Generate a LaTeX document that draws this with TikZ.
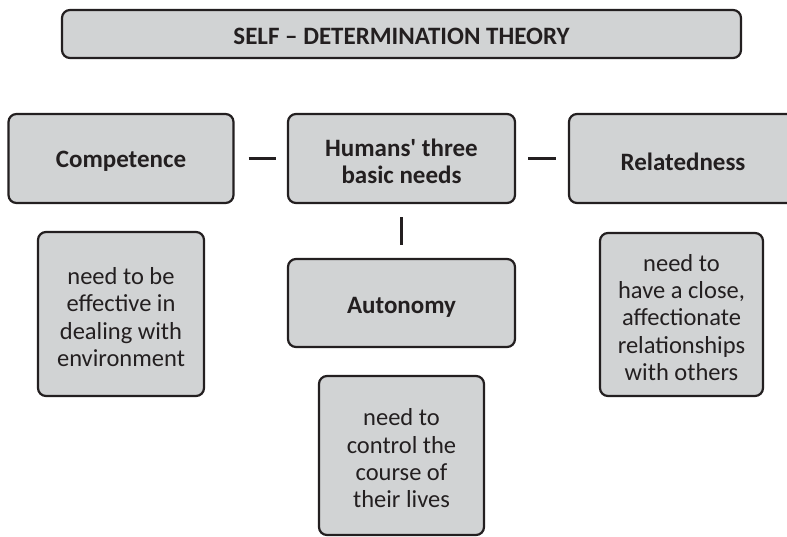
\documentclass[tikz,border=0pt]{standalone}
\usepackage{fontspec}
\setmainfont{Carlito}
\newfontfamily\plainfont{Carlito}
\definecolor{boxfill}{HTML}{D1D3D4}
\definecolor{ink}{HTML}{231F20}
\begin{document}
\begin{tikzpicture}[x=1pt,y=-1pt,
  box/.style={draw=ink, fill=boxfill, line width=2.2pt, rounded corners=8pt,
    inner sep=0pt, minimum width=#1},
  txt/.style={text=ink, align=center, inner sep=0pt},
  headtext/.style={txt, font=\fontsize{25}{27.5}\selectfont\bfseries},
  desctext/.style={txt, font=\fontsize{24.5}{27.3}\selectfont},
  link/.style={draw=ink, line width=2.2pt}]
\useasboundingbox (0,0) rectangle (787,536);
% boxes
\node[box=679pt, minimum height=48pt] (title) at (401.5,34) {};
\node[box=225pt, minimum height=89pt] (comp) at (121,158.5) {};
\node[box=227pt, minimum height=89pt] (hum) at (401.5,158.5) {};
\node[box=232pt, minimum height=89pt] (rel) at (685,158.5) {};
\node[box=227pt, minimum height=88pt] (auto) at (401.5,303) {};
\node[box=166pt, minimum height=164pt] (compd) at (121,314) {};
\node[box=163pt, minimum height=163pt] (reld) at (681.5,314.5) {};
\node[box=165pt, minimum height=159pt] (autod) at (401.5,455.5) {};
% texts
\node[txt, font=\fontsize{25}{27}\selectfont\bfseries] (titlet) at (401.5,36) {SELF – DETERMINATION THEORY};
\node[headtext] (compt) at (121,161.5) {Competence};
\node[headtext] (humt) at (401.5,161.5) {Humans{\plainfont'} three\\basic needs};
\node[headtext] (relt) at (683,162) {Relatedness};
\node[headtext] (autot) at (401.5,307) {Autonomy};
\node[desctext] (compdt) at (121,317) {need to be\\effective in\\dealing with\\environment};
\node[desctext] (reldt) at (681.5,317.5) {need to\\have a close,\\affectionate\\relationships\\with others};
\node[desctext] (autodt) at (401.5,458.5) {need to\\control the\\course of\\their lives};
% connectors
\draw[link, shorten <=14pt, shorten >=11pt] (comp.east) -- (hum.west);
\draw[link, shorten <=12pt, shorten >=12pt] (hum.east) -- (rel.west);
\draw[link, shorten <=13pt, shorten >=13pt] (hum.south) -- (auto.north);
\end{tikzpicture}
\end{document}
